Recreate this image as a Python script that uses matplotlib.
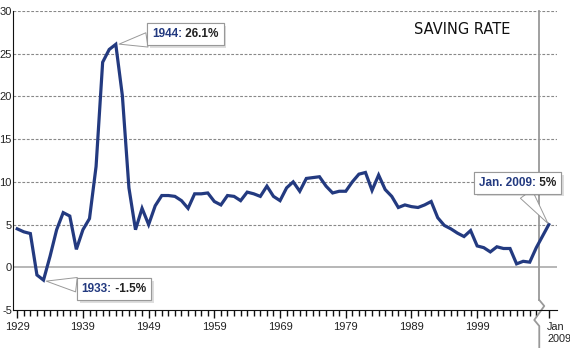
import matplotlib
matplotlib.use("Agg")
import matplotlib.pyplot as plt
import matplotlib.patheffects as pe
from matplotlib.offsetbox import TextArea, HPacker, AnnotationBbox
from matplotlib.ticker import FixedLocator

plt.rcParams['font.family'] = ['Liberation Sans', 'DejaVu Sans']

# annual personal saving rate, %
years = list(range(1929, 2009))
rate = [4.5, 4.15, 3.95, -0.9, -1.5, 1.3, 4.4, 6.4, 6.0, 2.1,
        4.4, 5.7, 11.8, 24.0, 25.5, 26.1, 20.1, 9.3, 4.4, 6.9,
        5.0, 7.2, 8.4, 8.4, 8.3, 7.8, 6.9, 8.6, 8.6, 8.7,
        7.7, 7.3, 8.4, 8.3, 7.8, 8.8, 8.6, 8.3, 9.5, 8.3,
        7.8, 9.3, 10.0, 8.9, 10.4, 10.5, 10.6, 9.5, 8.7, 8.9,
        8.9, 10.0, 10.9, 11.1, 9.0, 10.8, 9.1, 8.3, 7.0, 7.3,
        7.1, 7.0, 7.3, 7.7, 5.8, 4.9, 4.5, 4.0, 3.6, 4.3,
        2.5, 2.3, 1.8, 2.4, 2.2, 2.2, 0.4, 0.7, 0.6, 2.3]
last_label = "Jan\n2009"
last_rate = 5.0
major_years = [1929, 1939, 1949, 1959, 1969, 1979, 1989, 1999]

navy = '#233a80'
last_x = 2009.9      # where Jan 2009 sits after the axis break
break_x = 2008.45

fig = plt.figure(figsize=(5.7, 3.54), dpi=100)
ax = fig.add_axes([0.0233, 0.1243, 0.9539, 0.8446])

ax.plot(years + [last_x], rate + [last_rate], color=navy, lw=2.3,
        solid_joinstyle='miter', zorder=5)

ax.set_xlim(1928.4, 2011.15)
ax.set_ylim(-5, 30)

for v in range(5, 31, 5):
    ax.axhline(v, color='#888888', lw=0.8, ls=(0, (2.5, 1.5)), zorder=1)
ax.axhline(0, color='#aaaaaa', lw=1.2, zorder=1)

ax.spines['top'].set_visible(False)
ax.spines['right'].set_visible(False)
ax.spines['left'].set_color('#111111')
ax.spines['bottom'].set_color('#111111')

ax.set_yticks(range(-5, 31, 5))
ax.set_yticklabels([str(v) for v in range(-5, 31, 5)])
ax.tick_params(axis='y', length=0, pad=1, labelsize=8, labelcolor='#222222')

ax.set_xticks(major_years + [last_x])
ax.set_xticklabels([str(y) for y in major_years] + [""])
ax.xaxis.set_minor_locator(FixedLocator(years))
ax.tick_params(axis='x', which='major', length=6, width=1, pad=3,
               labelsize=8, labelcolor='#222222', color='#111111')
ax.tick_params(axis='x', which='minor', length=4, width=1, color='#111111')

xt = ax.get_xaxis_transform()
ax.text(last_x - 0.25, -0.04, last_label, transform=xt, ha='left', va='top',
        fontsize=7.8, color='#222222', linespacing=1.3)

# vertical divider with the break mark at the axis
px = 1 / 6.57
py = 1 / 298.7
ax.plot([break_x, break_x], [1.0, 10 * py], color='#999999', lw=1.3,
        transform=xt, clip_on=False, zorder=2)
ax.plot([break_x, break_x + 5 * px, break_x - 5 * px, break_x, break_x],
        [10 * py, 4 * py, -10 * py, -16 * py, -0.124],
        color='#999999', lw=1.3, transform=xt, clip_on=False, zorder=2)

ax.text(0.826, 0.962, "SAVING RATE", transform=ax.transAxes, ha='center',
        va='top', fontsize=10.5, family='DejaVu Sans', color='#111111')


def callout(label, value, xy, box_xy):
    parts = HPacker(children=[
        TextArea(label, textprops=dict(color=navy, weight='bold', fontsize=8.5)),
        TextArea(" " + value, textprops=dict(color='#222222', weight='bold', fontsize=8.5)),
    ], sep=0, pad=0, align='baseline')
    ab = AnnotationBbox(parts, xy, xybox=box_xy, xycoords='data', boxcoords='data',
                        pad=0.5, frameon=True,
                        bboxprops=dict(boxstyle='square,pad=0.35', fc='white',
                                       ec='#999999', lw=0.8),
                        arrowprops=dict(arrowstyle='wedge,tail_width=0.75,shrink_factor=0.5',
                                        fc='white', ec='#999999', lw=0.7,
                                        shrinkA=0, shrinkB=1),
                        zorder=6)
    ab.patch.set_path_effects([pe.withSimplePatchShadow(offset=(2, -2), alpha=0.18),
                               pe.Normal()])
    ax.add_artist(ab)


callout("1944:", "26.1%", (1944.3, 26.1), (1954.6, 27.3))
callout("1933:", "-1.5%", (1933.2, -1.6), (1943.7, -2.55))
callout("Jan. 2009:", "5%", (last_x, last_rate), (2005.2, 9.9))

fig.savefig("out.png", dpi=100)
